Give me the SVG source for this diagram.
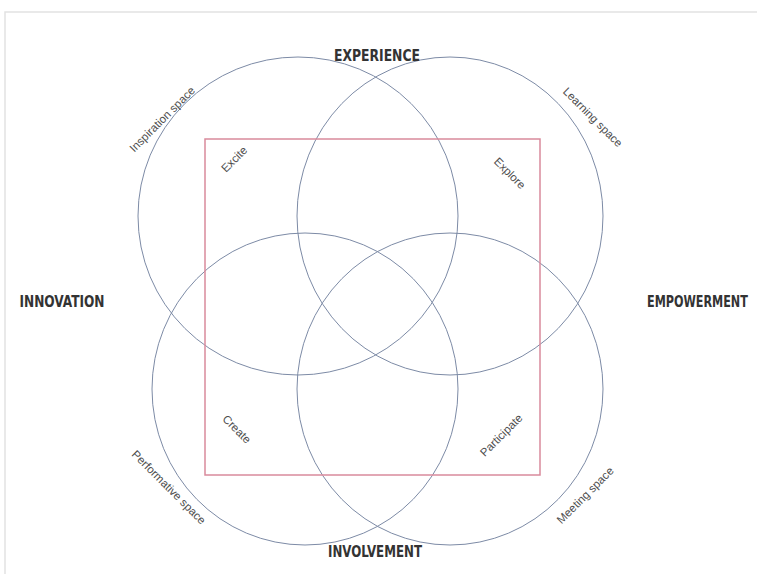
<svg xmlns="http://www.w3.org/2000/svg" width="757" height="574" viewBox="0 0 757 574">
<style>
.frame{fill:none;stroke:#e2e2e2;stroke-width:1.5}
.c{fill:none;stroke:#7d8ba6;stroke-width:1}
.sq{fill:none;stroke:#d98a9c;stroke-width:1.5}
.h{font-family:"DejaVu Sans Condensed","Liberation Sans Narrow","Liberation Sans",sans-serif;font-weight:bold;font-size:15px;fill:#333;text-anchor:middle;font-stretch:condensed}
.s{font-family:"Liberation Sans","Arial",sans-serif;font-size:11.5px;fill:#4d4d4d;text-anchor:middle}
</style>
<rect width="757" height="574" fill="#fff"/>
<path class="frame" d="M5,574 V12 H757"/>
<g id="connectors">
<ellipse id="c-tl" class="c" cx="298" cy="216" rx="160" ry="159"/>
<ellipse id="c-tr" class="c" cx="450" cy="216" rx="153" ry="159"/>
<ellipse id="c-bl" class="c" cx="305" cy="389" rx="153" ry="156"/>
<ellipse id="c-br" class="c" cx="450" cy="389" rx="153" ry="156"/>
</g>
<g id="square"><rect class="sq" x="205" y="139" width="335" height="336"/></g>
<g id="experience"><text class="h" x="377" y="61" textLength="86" lengthAdjust="spacingAndGlyphs">EXPERIENCE</text></g>
<g id="innovation"><text class="h" x="62" y="307" textLength="85" lengthAdjust="spacingAndGlyphs">INNOVATION</text></g>
<g id="empowerment"><text class="h" transform="translate(647,307) scale(0.83,1)" style="text-anchor:start">EMPOWERMENT</text></g>
<g id="involvement"><text class="h" x="375" y="557" textLength="94" lengthAdjust="spacingAndGlyphs">INVOLVEMENT</text></g>
<g id="inspiration"><text class="s" transform="translate(165,122) rotate(-45)">Inspiration space</text></g>
<g id="learning"><text class="s" transform="translate(590,120) rotate(45)">Learning space</text></g>
<g id="excite"><text class="s" transform="translate(237,162) rotate(-45)">Excite</text></g>
<g id="explore"><text class="s" transform="translate(507,176) rotate(45)">Explore</text></g>
<g id="create"><text class="s" transform="translate(234,432) rotate(45)">Create</text></g>
<g id="participate"><text class="s" transform="translate(504,438) rotate(-45)">Participate</text></g>
<g id="performative"><text class="s" transform="translate(166,490) rotate(45)">Performative space</text></g>
<g id="meeting"><text class="s" transform="translate(588,498) rotate(-45)">Meeting space</text></g>
</svg>
